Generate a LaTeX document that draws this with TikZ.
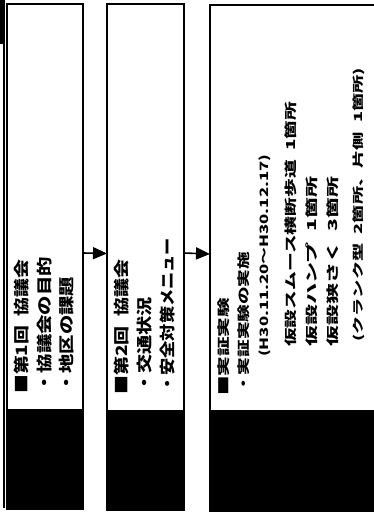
\documentclass[tikz,border=0pt]{standalone}
\usepackage{fontspec,graphicx}
\newfontfamily\jpfont{Noto Sans CJK JP}
\usetikzlibrary{arrows.meta}

\tikzset{
  stepbox/.style={draw,line width=1.3pt,inner sep=0pt,outer sep=0pt,anchor=north west},
  line/.style={rotate=90,anchor=west,inner sep=0pt,font=\jpfont\bfseries\fontsize{18}{20}\selectfont},
  flow/.style={line width=1.6pt,-{Triangle[length=14pt,width=12pt]}}
}
% length along the line, thickness of the line
\newcommand\fitline[3]{\resizebox*{#1}{#2}{#3\vphantom{■}}}

\begin{document}
\begin{tikzpicture}[x=1pt,y=-1pt]
\path[use as bounding box] (0,0) rectangle (374,530);
\clip (0,0) rectangle (374,530);
% edge of the strip to the left
\fill (0,0) rectangle (4.5,44);
\draw[line width=1.3pt] (4,0) -- (4,508);
% the three steps
\node[stepbox,minimum width=76pt,minimum height=505pt] (step1) at (7,4) {};
\node[stepbox,minimum width=77pt,minimum height=506pt] (step2) at (107,4) {};
\node[stepbox,minimum width=170pt,minimum height=506pt] (step3) at (210,5) {};
\fill (7,409) rectangle (83,509);
\fill (107,410) rectangle (184,510);
\fill (210,410) rectangle (380,511);
\draw[flow] ([yshift=3.5pt]step1.east) -- ([yshift=3.5pt]step2.west);
\draw[flow] ([yshift=4pt]step2.east) -- ([yshift=4pt]step3.west);
% step 1
\node[line] (s1a) at (22,394) {\fitline{134pt}{15pt}{■第1回\hspace{.5em}協議会}};
\node[line] (s1b) at (45,393) {\fitline{136pt}{15pt}{・協議会の目的}};
\node[line] (s1c) at (67,393) {\fitline{116pt}{15pt}{・地区の課題}};
% step 2
\node[line] (s2a) at (122,395) {\fitline{135pt}{15pt}{■第2回\hspace{.5em}協議会}};
\node[line] (s2b) at (145,393) {\fitline{96pt}{15pt}{・交通状況}};
\node[line] (s2c) at (167,393) {\fitline{155pt}{15pt}{・安全対策メニュー}};
% step 3
\node[line] (s3a) at (224,396) {\fitline{98pt}{12pt}{■実証実験}};
\node[line] (s3b) at (244,393) {\fitline{141pt}{12pt}{・実証実験の実施}};
\node[line] (s3c) at (265,357) {\fitline{202pt}{12pt}{(H30.11.20～H30.12.17)}};
\node[line] (s3d) at (291,347) {\fitline{245pt}{12pt}{仮設スムース横断歩道\hspace{.5em}1箇所}};
\node[line] (s3e) at (312,347) {\fitline{170pt}{12pt}{仮設ハンプ\hspace{.5em}1箇所}};
\node[line] (s3f) at (333,347) {\fitline{170pt}{12pt}{仮設狭さく\hspace{.5em}3箇所}};
\node[line] (s3g) at (359,342) {\fitline{274pt}{12pt}{(クランク型\hspace{.5em}2箇所、片側\hspace{.5em}1箇所)}};
\end{tikzpicture}
\end{document}
